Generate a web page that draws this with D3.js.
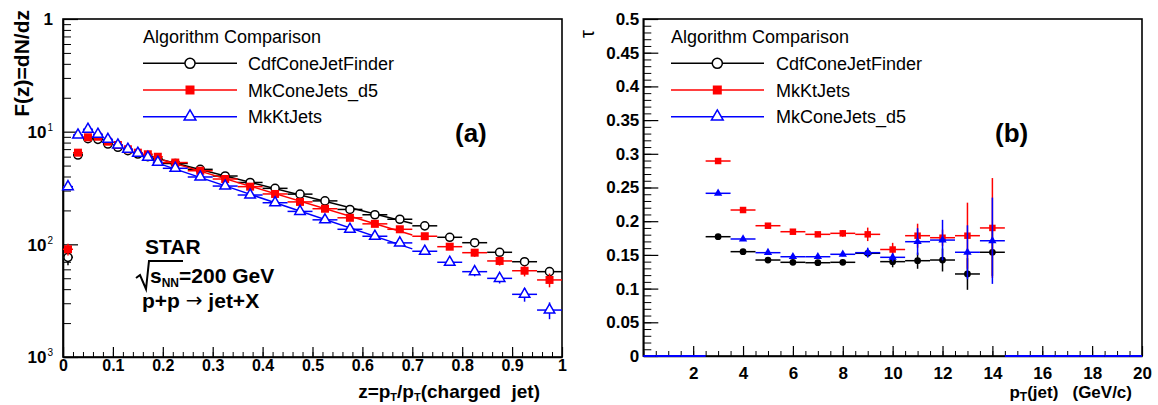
<!DOCTYPE html>
<html><head><meta charset="utf-8">
<script src="https://cdn.jsdelivr.net/npm/d3@7"></script>
<style>
body{margin:0;background:#fff}
svg{display:block}
text{font-family:"Liberation Sans",Arial,sans-serif}
</style>
</head><body>
<svg id="c" width="1158" height="405"></svg>
<script>
// ---------- Panel (a) data ----------
const zCenters = [0.01,0.03,0.05,0.07,0.09,0.11,0.13,0.15,0.17,0.19,
  0.225,0.275,0.325,0.375,0.425,0.475,0.525,0.575,0.625,0.675,0.725,0.775,0.825,0.875,0.925,0.975];
const zHalfWidth = [0.01,0.01,0.01,0.01,0.01,0.01,0.01,0.01,0.01,0.01,
  0.025,0.025,0.025,0.025,0.025,0.025,0.025,0.025,0.025,0.025,0.025,0.025,0.025,0.025,0.025,0.025];
const cdfZ = [0.00767,0.0621,0.0866,0.0855,0.0777,0.0727,0.0678,0.0633,0.0600,0.0569,
  0.0522,0.0463,0.0404,0.0354,0.0314,0.0279,0.0243,0.0204,0.0183,0.0167,0.0146,0.01155,0.01034,0.0085,0.00701,0.00572];
const cdfZRelErr = [0.15,0.03,0.02,0.02,0.02,0.02,0.02,0.02,0.02,0.02,
  0.02,0.02,0.02,0.02,0.02,0.02,0.02,0.02,0.025,0.025,0.03,0.04,0.05,0.06,0.07,0.09];
const mkConeZ = [0.00904,0.0651,0.0891,0.0902,0.0815,0.0762,0.0698,0.0651,0.0630,0.0599,
  0.0532,0.0450,0.0380,0.0325,0.0280,0.0238,0.0207,0.0172,0.0152,0.0136,0.0118,0.00953,0.00843,0.00712,0.00583,0.00483];
const mkConeZRelErr = [0.12,0.03,0.02,0.02,0.02,0.02,0.02,0.02,0.02,0.02,
  0.02,0.02,0.02,0.02,0.02,0.02,0.025,0.025,0.03,0.03,0.04,0.06,0.08,0.09,0.11,0.14];
const mkKtZ = [0.0325,0.0934,0.105,0.0948,0.0855,0.0762,0.0698,0.0643,0.0592,0.0535,
  0.0473,0.0396,0.0329,0.0274,0.0234,0.0196,0.0165,0.0136,0.0118,0.0103,0.00868,0.00693,0.00572,0.00499,0.0036,0.00261];
const mkKtZRelErr = [0.05,0.03,0.02,0.02,0.02,0.02,0.02,0.02,0.02,0.02,
  0.02,0.02,0.02,0.02,0.025,0.025,0.03,0.03,0.03,0.035,0.05,0.07,0.09,0.10,0.14,0.17];
const legendA = ["CdfConeJetFinder","MkConeJets_d5","MkKtJets"];
const yTicksA = [0.001,0.01,0.1,1];
const yTickExpA = ["3","2","1",""];
const xTicksA = [0,0.1,0.2,0.3,0.4,0.5,0.6,0.7,0.8,0.9,1];
const fitRangeA = [0.2,0.7];

// ---------- Panel (b) data ----------
const ptCenters = [3,4,5,6,7,8,9,10,11,12,13,14];
const cdfTau = [0.177,0.1548,0.1424,0.139,0.1384,0.139,0.1524,0.140,0.1414,0.1424,0.1217,0.1539];
const cdfTauErr = [0.002,0.002,0.002,0.002,0.002,0.003,0.005,0.0084,0.012,0.017,0.0235,0.035];
const ktTau = [0.2893,0.2166,0.1933,0.1844,0.1805,0.182,0.1805,0.158,0.1785,0.1755,0.1785,0.190];
const ktTauErr = [0.002,0.002,0.003,0.003,0.003,0.005,0.01,0.0099,0.0178,0.012,0.049,0.074];
const coneTau = [0.2414,0.1736,0.1533,0.1473,0.1473,0.1509,0.1533,0.1464,0.1696,0.172,0.1539,0.171];
const coneTauErr = [0.002,0.002,0.002,0.002,0.002,0.003,0.0074,0.006,0.02,0.03,0.04,0.064];
const coneEmptyBins = [0,1,2,15,16,17,18,19,20];
const legendB = ["CdfConeJetFinder","MkKtJets","MkConeJets_d5"];
const xTicksB = [2,4,6,8,10,12,14,16,18,20];
const yTicksB = [0,0.05,0.1,0.15,0.2,0.25,0.3,0.35,0.4,0.45,0.5];

const svg = d3.select("#c");
const FONT = '"Liberation Sans",Arial,sans-serif';

// ================= Panel (a) =================
const xA = d3.scaleLinear().domain([0,1]).range([63,562]);
const yA = d3.scaleLog().domain([0.001,1]).range([357,19]);
const gA = svg.append("g");

gA.append("rect").attr("x",63).attr("y",19).attr("width",499).attr("height",338)
  .attr("fill","none").attr("stroke","#000").attr("stroke-width",1.6);

const yMinorA = [];
[0.001,0.01,0.1].forEach(d=>{for(let k=2;k<=9;k++) yMinorA.push(k*d);});
gA.append("g").attr("transform","translate(63,0)")
  .call(d3.axisLeft(yA).tickValues(yMinorA).tickSize(-8).tickSizeOuter(0).tickFormat(""))
  .call(g=>g.select(".domain").remove());
const xMinorA = d3.range(0,1.0001,0.02).map(v=>+v.toFixed(2));
gA.append("g").attr("transform","translate(0,357)")
  .call(d3.axisBottom(xA).tickValues(xMinorA).tickSize(-5).tickSizeOuter(0).tickFormat(""))
  .call(g=>g.select(".domain").remove());

const yAxA = gA.append("g").attr("transform","translate(63,0)")
  .call(d3.axisLeft(yA).tickValues(yTicksA).tickSize(-15).tickSizeOuter(0).tickPadding(10).tickFormat(""));
yAxA.selectAll(".tick text").each(function(d,i){
  const t = d3.select(this).attr("font-family",FONT).attr("font-weight","bold").attr("font-size",17).attr("fill","#000");
  const ex = yTickExpA[i];
  if(ex===""){ t.text("1").attr("dy","0.35em"); }
  else {
    t.attr("dy","0.35em");
    t.append("tspan").text("10");
    t.append("tspan").text(ex).attr("font-size",10).attr("font-weight","normal").attr("dy",-7).attr("dx",1);
  }
});
const xAxA = gA.append("g").attr("transform","translate(0,357)")
  .call(d3.axisBottom(xA).tickValues(xTicksA).tickSize(-10).tickSizeOuter(0).tickPadding(3)
        .tickFormat(d=>d===0?"0":d===1?"1":d3.format(".1f")(d)));
xAxA.selectAll("text").attr("font-family",FONT).attr("font-weight","bold").attr("font-size",16).attr("fill","#000");
[yAxA,xAxA].forEach(a=>{a.select(".domain").attr("stroke-width",1.6);a.selectAll(".tick line").attr("stroke-width",1.2);});

svg.append("text").attr("transform","translate(29,10) rotate(-90)").attr("text-anchor","end")
  .attr("font-weight","bold").attr("font-size",21).text("F(z)=dN/dz");
const xtA = svg.append("text").attr("x",540).attr("y",398).attr("text-anchor","end")
  .attr("font-weight","bold").attr("font-size",19);
xtA.append("tspan").text("z=p");
xtA.append("tspan").text("T").attr("font-size",11).attr("dy",3);
xtA.append("tspan").text("/p").attr("dy",-3);
xtA.append("tspan").text("T").attr("font-size",11).attr("dy",3);
xtA.append("tspan").text("(charged\u00a0\u00a0jet)").attr("dy",-3);

function drawSeries(g, xs, ys, cx, vals, errLo, errHi, half, color, sym, size, open, sw){
  const s = g.append("g");
  cx.forEach((c,i)=>{
    const v = vals[i];
    const x0 = xs(Math.max(xs.domain()[0], c-half[i])), x1 = xs(Math.min(xs.domain()[1], c+half[i]));
    s.append("line").attr("x1",x0).attr("x2",x1).attr("y1",ys(v)).attr("y2",ys(v))
      .attr("stroke",color).attr("stroke-width",sw);
    s.append("line").attr("x1",xs(c)).attr("x2",xs(c)).attr("y1",ys(errLo[i])).attr("y2",ys(errHi[i]))
      .attr("stroke",color).attr("stroke-width",sw);
    s.append("path").attr("d",d3.symbol().type(sym).size(size)())
      .attr("transform",`translate(${xs(c)},${ys(v)})`)
      .attr("fill",open?"#fff":color).attr("stroke",color).attr("stroke-width",open?1.5:0);
  });
}
function fitLine(g, vals, color){
  const pts = zCenters.map((z,i)=>[z,Math.log10(vals[i])]).filter(p=>p[0]>fitRangeA[0]&&p[0]<fitRangeA[1]);
  const mx=d3.mean(pts,p=>p[0]), my=d3.mean(pts,p=>p[1]);
  const b=d3.sum(pts,p=>(p[0]-mx)*(p[1]-my))/d3.sum(pts,p=>(p[0]-mx)**2);
  const a=my-b*mx;
  g.append("line").attr("x1",xA(fitRangeA[0])).attr("x2",xA(fitRangeA[1]))
    .attr("y1",yA(10**(a+b*fitRangeA[0]))).attr("y2",yA(10**(a+b*fitRangeA[1])))
    .attr("stroke",color).attr("stroke-width",1.5);
}
const seriesA = [
  {v:cdfZ,e:cdfZRelErr,c:"#000",sym:d3.symbolCircle,size:52,open:true},
  {v:mkConeZ,e:mkConeZRelErr,c:"#ff0000",sym:d3.symbolSquare,size:64,open:false},
  {v:mkKtZ,e:mkKtZRelErr,c:"#0000ff",sym:d3.symbolTriangle,size:48,open:true}
];
const dataA = gA.append("g");
seriesA.forEach(s=>{
  fitLine(dataA, s.v, s.c);
  drawSeries(dataA, xA, yA, zCenters, s.v, s.v.map((v,i)=>v*(1-s.e[i])), s.v.map((v,i)=>v*(1+s.e[i])),
    zHalfWidth, s.c, s.sym, s.size, s.open, 1.5);
});

function legend(g, x0, x1, xm, xt, labels, syms, sizes, opens){
  g.append("text").attr("x",x0).attr("y",43).attr("font-size",18).text("Algorithm Comparison");
  const colors=["#000","#ff0000","#0000ff"];
  const rows=[63.3,90,116.7];
  labels.forEach((l,i)=>{
    g.append("line").attr("x1",x0).attr("x2",x1).attr("y1",rows[i]).attr("y2",rows[i]).attr("stroke",colors[i]).attr("stroke-width",1.5);
    g.append("path").attr("d",d3.symbol().type(syms[i]).size(sizes[i])()).attr("transform",`translate(${xm},${rows[i]})`)
      .attr("fill",opens[i]?"#fff":colors[i]).attr("stroke",colors[i]).attr("stroke-width",opens[i]?1.5:0);
    g.append("text").attr("x",xt).attr("y",rows[i]+6.5).attr("font-size",18).text(l);
  });
}
legend(svg,143,237,190,248,legendA,[d3.symbolCircle,d3.symbolSquare,d3.symbolTriangle],[80,81,60],[true,false,true]);

svg.append("text").attr("x",455).attr("y",142).attr("font-weight","bold").attr("font-size",26).text("(a)");

// STAR block
svg.append("text").attr("x",145).attr("y",253.5).attr("font-weight","bold").attr("font-size",21).text("STAR");
svg.append("path").attr("d","M136,278 L140,275 L146,289 L149,261 L183,261").attr("fill","none").attr("stroke","#000").attr("stroke-width",2);
const sq = svg.append("text").attr("x",150).attr("y",283).attr("font-weight","bold").attr("font-size",21);
sq.append("tspan").text("s");
sq.append("tspan").text("NN").attr("font-size",12).attr("dy",4);
sq.append("tspan").text("=200 GeV").attr("dy",-4);
const pp = svg.append("text").attr("x",142).attr("y",308).attr("font-weight","bold").attr("font-size",21);
pp.append("tspan").text("p+p ");
pp.append("tspan").text("\u2192").attr("font-family","\"DejaVu Sans\",sans-serif").attr("font-weight","normal").attr("font-size",20).attr("dy",-1);
pp.append("tspan").text(" jet+X").attr("dy",1);

// ================= Panel (b) =================
const xB = d3.scaleLinear().domain([0,20]).range([643.3,1142]);
const yB = d3.scaleLinear().domain([0,0.5]).range([356,19]);
const gB = svg.append("g");
gB.append("rect").attr("x",643.3).attr("y",19).attr("width",498.7).attr("height",337)
  .attr("fill","none").attr("stroke","#000").attr("stroke-width",1.6);
gB.append("g").attr("transform","translate(643.3,0)")
  .call(d3.axisLeft(yB).tickValues(d3.range(0,0.5001,0.01)).tickSize(-8).tickSizeOuter(0).tickFormat(""))
  .call(g=>g.select(".domain").remove());
gB.append("g").attr("transform","translate(0,356)")
  .call(d3.axisBottom(xB).tickValues(d3.range(0,20.001,0.5)).tickSize(-5).tickSizeOuter(0).tickFormat(""))
  .call(g=>g.select(".domain").remove());
const yAxB = gB.append("g").attr("transform","translate(643.3,0)")
  .call(d3.axisLeft(yB).tickValues(yTicksB).tickSize(-15).tickSizeOuter(0).tickPadding(4)
        .tickFormat(d=>d===0?"0":d3.format("")(+d.toFixed(2))));
yAxB.selectAll("text").attr("font-family",FONT).attr("font-weight","bold").attr("font-size",17).attr("fill","#000");
const xAxB = gB.append("g").attr("transform","translate(0,356)")
  .call(d3.axisBottom(xB).tickValues(xTicksB).tickSize(-10).tickSizeOuter(0).tickPadding(11));
xAxB.selectAll("text").attr("font-family",FONT).attr("font-weight","bold").attr("font-size",17).attr("fill","#000");
[yAxB,xAxB].forEach(a=>{a.select(".domain").attr("stroke-width",1.6);a.selectAll(".tick line").attr("stroke-width",1.2);});

svg.append("text").attr("transform","translate(594,38) rotate(-90)").attr("font-size",20).text("\u03c4");
const xtB = svg.append("text").attr("x",1132).attr("y",398).attr("text-anchor","end").attr("font-weight","bold").attr("font-size",17);
xtB.append("tspan").text("p");
xtB.append("tspan").text("T").attr("font-size",12).attr("dy",3);
xtB.append("tspan").text("(jet)\u00a0\u00a0\u00a0(GeV/c)").attr("dy",-3);

const dataB = gB.append("g");
const halfB = ptCenters.map(()=>0.5);
[
  {v:cdfTau,e:cdfTauErr,c:"#000",sym:d3.symbolCircle,size:36},
  {v:ktTau,e:ktTauErr,c:"#ff0000",sym:d3.symbolSquare,size:42},
  {v:coneTau,e:coneTauErr,c:"#0000ff",sym:d3.symbolTriangle,size:30}
].forEach((s,k)=>{
  if(k===2){
    coneEmptyBins.forEach(b=>{
      dataB.append("line").attr("x1",xB(Math.max(0,b-0.5))).attr("x2",xB(Math.min(20,b+0.5)))
        .attr("y1",yB(0)).attr("y2",yB(0)).attr("stroke",s.c).attr("stroke-width",2);
    });
  }
  drawSeries(dataB, xB, yB, ptCenters, s.v, s.v.map((v,i)=>v-s.e[i]), s.v.map((v,i)=>v+s.e[i]),
    halfB, s.c, s.sym, s.size, false, 1.5);
});

legend(svg,671,764,717.3,776,legendB,[d3.symbolCircle,d3.symbolSquare,d3.symbolTriangle],[80,81,60],[true,false,true]);
svg.append("text").attr("x",995).attr("y",142).attr("font-weight","bold").attr("font-size",26).text("(b)");
</script>
</body></html>
